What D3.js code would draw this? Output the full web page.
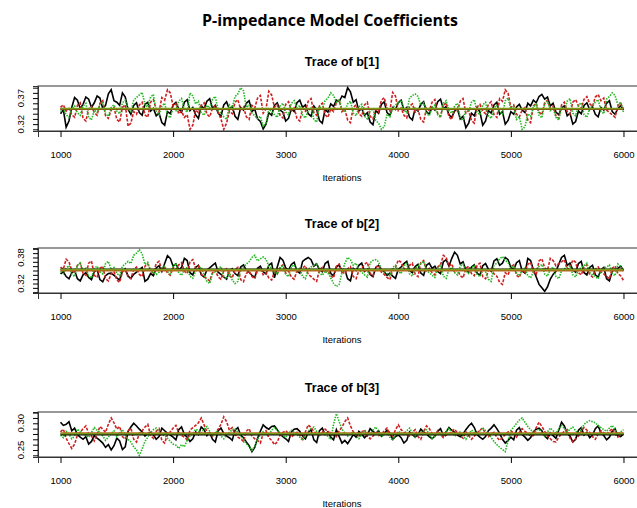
<!DOCTYPE html>
<html>
<head>
<meta charset="utf-8">
<script src="https://cdn.jsdelivr.net/npm/d3@7"></script>
<style>
  body { margin: 0; background: #fff; }
  text { font-family: "Liberation Sans", Arial, sans-serif; fill: #000; }
</style>
</head>
<body>
<div id="chart"></div>
<script>
// iterations: 1000, 1025, ..., 6000 (values every 25 iterations)
var iterStart = 1000, iterStep = 25;

// b[1]
var b1_black = [0.340,0.348,0.314,0.326,0.352,0.371,0.366,0.350,0.358,0.372,0.368,0.352,0.361,0.374,0.370,0.350,0.356,0.378,0.386,0.365,
  0.362,0.356,0.380,0.372,0.348,0.339,0.356,0.361,0.342,0.337,0.358,0.362,0.345,0.350,0.336,0.341,0.323,0.318,0.344,0.340,
  0.357,0.362,0.349,0.343,0.362,0.367,0.346,0.352,0.338,0.331,0.355,0.350,0.364,0.369,0.350,0.356,0.341,0.335,0.357,0.363,
  0.348,0.354,0.335,0.329,0.352,0.347,0.360,0.365,0.344,0.349,0.330,0.325,0.311,0.320,0.342,0.337,0.356,0.361,0.347,0.343,
  0.326,0.331,0.349,0.344,0.361,0.366,0.352,0.357,0.340,0.335,0.355,0.348,0.327,0.322,0.348,0.343,0.359,0.354,0.366,0.363,
  0.374,0.371,0.390,0.382,0.362,0.367,0.345,0.350,0.337,0.342,0.324,0.319,0.346,0.341,0.358,0.363,0.342,0.337,0.352,0.348,
  0.361,0.366,0.347,0.352,0.333,0.328,0.350,0.345,0.358,0.363,0.344,0.339,0.352,0.347,0.363,0.368,0.349,0.354,0.338,0.333,
  0.345,0.350,0.330,0.335,0.313,0.322,0.341,0.336,0.352,0.343,0.318,0.326,0.346,0.341,0.357,0.362,0.339,0.344,0.320,0.327,
  0.344,0.339,0.353,0.358,0.347,0.342,0.360,0.355,0.366,0.361,0.373,0.377,0.368,0.372,0.355,0.360,0.343,0.338,0.351,0.355,
  0.336,0.341,0.320,0.325,0.345,0.340,0.356,0.361,0.348,0.353,0.339,0.334,0.352,0.347,0.360,0.365,0.344,0.339,0.350,0.355,
  0.347];
var b1_red = [0.352,0.357,0.345,0.350,0.338,0.333,0.356,0.361,0.331,0.326,0.349,0.354,0.342,0.337,0.360,0.365,0.336,0.331,0.347,0.352,
  0.329,0.324,0.352,0.357,0.316,0.322,0.344,0.339,0.357,0.362,0.338,0.333,0.362,0.367,0.349,0.344,0.371,0.366,0.386,0.380,
  0.354,0.359,0.340,0.345,0.333,0.338,0.310,0.318,0.347,0.342,0.356,0.361,0.339,0.334,0.351,0.356,0.342,0.330,0.310,0.322,
  0.345,0.340,0.362,0.367,0.348,0.353,0.334,0.329,0.356,0.351,0.370,0.375,0.341,0.349,0.383,0.376,0.352,0.357,0.337,0.332,
  0.358,0.363,0.346,0.351,0.331,0.326,0.350,0.345,0.364,0.369,0.342,0.337,0.355,0.360,0.338,0.333,0.349,0.344,0.361,0.366,
  0.344,0.349,0.328,0.323,0.352,0.357,0.340,0.335,0.357,0.362,0.335,0.330,0.348,0.343,0.366,0.371,0.350,0.345,0.381,0.374,
  0.346,0.351,0.337,0.332,0.354,0.359,0.343,0.348,0.329,0.324,0.351,0.346,0.362,0.367,0.340,0.335,0.356,0.361,0.334,0.329,
  0.350,0.345,0.364,0.369,0.341,0.346,0.327,0.322,0.353,0.358,0.345,0.340,0.358,0.363,0.338,0.333,0.369,0.364,0.386,0.379,
  0.352,0.357,0.339,0.334,0.347,0.352,0.328,0.323,0.355,0.360,0.343,0.338,0.361,0.366,0.350,0.355,0.336,0.331,0.357,0.362,
  0.344,0.339,0.362,0.367,0.355,0.350,0.368,0.373,0.359,0.354,0.372,0.377,0.365,0.370,0.347,0.342,0.338,0.333,0.355,0.360,
  0.349];
var b1_green = [0.344,0.349,0.338,0.333,0.350,0.355,0.342,0.337,0.355,0.360,0.333,0.328,0.347,0.342,0.358,0.363,0.340,0.335,0.352,0.357,
  0.345,0.340,0.361,0.366,0.349,0.344,0.366,0.371,0.376,0.381,0.358,0.353,0.372,0.377,0.343,0.338,0.355,0.360,0.337,0.332,
  0.351,0.346,0.364,0.369,0.348,0.343,0.380,0.374,0.359,0.364,0.342,0.337,0.356,0.351,0.368,0.373,0.346,0.341,0.334,0.329,
  0.357,0.352,0.373,0.378,0.390,0.384,0.352,0.357,0.341,0.336,0.330,0.335,0.316,0.321,0.349,0.344,0.338,0.333,0.355,0.360,
  0.343,0.338,0.360,0.365,0.351,0.356,0.337,0.332,0.346,0.351,0.329,0.324,0.354,0.349,0.365,0.370,0.380,0.375,0.362,0.367,
  0.348,0.343,0.359,0.364,0.341,0.336,0.353,0.358,0.335,0.330,0.345,0.350,0.327,0.322,0.310,0.315,0.339,0.334,0.352,0.357,
  0.361,0.366,0.347,0.342,0.370,0.375,0.378,0.373,0.356,0.361,0.341,0.336,0.352,0.357,0.338,0.333,0.360,0.365,0.346,0.341,
  0.355,0.360,0.332,0.327,0.349,0.344,0.362,0.367,0.343,0.338,0.357,0.362,0.336,0.331,0.351,0.356,0.344,0.339,0.365,0.370,
  0.348,0.353,0.329,0.334,0.310,0.315,0.340,0.335,0.353,0.358,0.337,0.332,0.359,0.364,0.346,0.351,0.333,0.328,0.352,0.347,
  0.364,0.369,0.341,0.336,0.356,0.361,0.338,0.333,0.350,0.355,0.362,0.367,0.345,0.340,0.368,0.373,0.380,0.375,0.357,0.362,
  0.343];

// b[2]
var b2_black = [0.342,0.347,0.336,0.331,0.345,0.350,0.331,0.326,0.340,0.345,0.334,0.329,0.347,0.352,0.329,0.324,0.338,0.343,0.344,0.339,
  0.333,0.328,0.349,0.354,0.337,0.332,0.341,0.346,0.352,0.357,0.325,0.330,0.343,0.338,0.356,0.361,0.348,0.366,0.384,0.378,
  0.360,0.365,0.352,0.357,0.378,0.373,0.345,0.340,0.357,0.362,0.340,0.335,0.351,0.356,0.362,0.367,0.346,0.341,0.335,0.330,
  0.349,0.354,0.343,0.338,0.358,0.363,0.351,0.346,0.339,0.334,0.355,0.360,0.347,0.342,0.362,0.367,0.333,0.358,0.380,0.374,
  0.356,0.351,0.364,0.369,0.349,0.344,0.371,0.376,0.380,0.375,0.360,0.365,0.352,0.347,0.366,0.371,0.343,0.338,0.358,0.363,
  0.347,0.352,0.331,0.326,0.355,0.350,0.362,0.367,0.348,0.353,0.341,0.336,0.357,0.362,0.352,0.347,0.339,0.344,0.337,0.332,
  0.353,0.358,0.366,0.371,0.350,0.345,0.359,0.364,0.344,0.339,0.362,0.367,0.355,0.360,0.348,0.343,0.370,0.375,0.360,0.378,
  0.392,0.385,0.365,0.370,0.351,0.346,0.358,0.363,0.344,0.339,0.361,0.366,0.353,0.348,0.372,0.377,0.362,0.367,0.380,0.375,
  0.357,0.352,0.368,0.373,0.349,0.344,0.378,0.373,0.352,0.335,0.318,0.310,0.302,0.312,0.330,0.341,0.348,0.364,0.380,0.385,
  0.362,0.367,0.351,0.346,0.366,0.371,0.345,0.340,0.357,0.362,0.340,0.335,0.352,0.357,0.331,0.326,0.348,0.353,0.355,0.360,
  0.350];
var b2_red = [0.358,0.353,0.376,0.370,0.350,0.345,0.362,0.367,0.344,0.339,0.367,0.372,0.339,0.334,0.355,0.360,0.331,0.326,0.342,0.347,
  0.328,0.323,0.347,0.352,0.336,0.331,0.353,0.358,0.341,0.336,0.360,0.365,0.349,0.344,0.366,0.371,0.352,0.357,0.344,0.339,
  0.357,0.352,0.363,0.368,0.348,0.343,0.370,0.375,0.355,0.360,0.341,0.336,0.331,0.326,0.345,0.350,0.335,0.330,0.349,0.354,
  0.338,0.333,0.352,0.357,0.329,0.324,0.343,0.348,0.336,0.331,0.351,0.356,0.340,0.345,0.333,0.328,0.347,0.342,0.358,0.363,
  0.344,0.349,0.335,0.330,0.349,0.354,0.356,0.361,0.341,0.336,0.330,0.325,0.352,0.357,0.345,0.350,0.338,0.333,0.360,0.365,
  0.347,0.342,0.354,0.359,0.336,0.331,0.350,0.355,0.364,0.369,0.343,0.338,0.357,0.362,0.346,0.341,0.334,0.329,0.352,0.357,
  0.374,0.369,0.355,0.350,0.362,0.367,0.341,0.336,0.368,0.373,0.350,0.355,0.345,0.340,0.358,0.363,0.385,0.380,0.360,0.365,
  0.347,0.352,0.338,0.333,0.355,0.360,0.343,0.338,0.362,0.367,0.336,0.331,0.350,0.355,0.342,0.337,0.323,0.318,0.345,0.340,
  0.358,0.363,0.339,0.334,0.351,0.346,0.364,0.369,0.346,0.341,0.372,0.377,0.356,0.351,0.378,0.373,0.361,0.366,0.370,0.375,
  0.352,0.357,0.374,0.369,0.345,0.340,0.358,0.363,0.340,0.335,0.353,0.358,0.347,0.342,0.336,0.331,0.355,0.360,0.343,0.338,
  0.327];
var b2_green = [0.348,0.343,0.356,0.361,0.341,0.336,0.362,0.367,0.350,0.355,0.338,0.333,0.355,0.360,0.347,0.342,0.366,0.371,0.352,0.357,
  0.343,0.338,0.360,0.365,0.371,0.366,0.385,0.390,0.398,0.388,0.364,0.369,0.350,0.345,0.341,0.346,0.356,0.361,0.347,0.342,
  0.361,0.366,0.344,0.339,0.352,0.357,0.337,0.332,0.349,0.354,0.358,0.340,0.325,0.320,0.343,0.348,0.354,0.359,0.336,0.331,
  0.346,0.328,0.320,0.325,0.352,0.358,0.365,0.370,0.380,0.385,0.372,0.377,0.381,0.376,0.360,0.355,0.347,0.342,0.355,0.360,
  0.341,0.336,0.358,0.363,0.350,0.355,0.336,0.331,0.353,0.358,0.362,0.367,0.344,0.339,0.349,0.344,0.333,0.320,0.313,0.318,
  0.345,0.366,0.380,0.375,0.362,0.367,0.351,0.346,0.340,0.335,0.368,0.373,0.375,0.370,0.353,0.348,0.343,0.338,0.357,0.362,
  0.348,0.343,0.361,0.366,0.342,0.337,0.355,0.360,0.366,0.371,0.350,0.345,0.339,0.334,0.358,0.363,0.337,0.332,0.352,0.357,
  0.345,0.340,0.360,0.365,0.348,0.343,0.356,0.361,0.341,0.336,0.353,0.348,0.330,0.325,0.362,0.367,0.377,0.382,0.373,0.368,
  0.355,0.360,0.343,0.338,0.351,0.356,0.338,0.333,0.347,0.352,0.359,0.364,0.342,0.337,0.353,0.358,0.336,0.331,0.349,0.354,
  0.357,0.362,0.340,0.335,0.352,0.357,0.362,0.367,0.345,0.340,0.336,0.331,0.350,0.355,0.358,0.363,0.343,0.338,0.365,0.360,
  0.346];

// b[3]
var b3_black = [0.302,0.296,0.298,0.303,0.286,0.291,0.279,0.274,0.270,0.275,0.261,0.266,0.277,0.272,0.268,0.263,0.255,0.260,0.250,0.258,
  0.272,0.267,0.251,0.256,0.285,0.293,0.300,0.295,0.289,0.284,0.276,0.281,0.283,0.278,0.270,0.275,0.291,0.286,0.281,0.278,
  0.274,0.269,0.288,0.293,0.279,0.274,0.266,0.271,0.284,0.279,0.293,0.288,0.277,0.282,0.270,0.265,0.286,0.291,0.281,0.276,
  0.273,0.268,0.287,0.292,0.278,0.273,0.265,0.258,0.247,0.255,0.272,0.285,0.297,0.292,0.289,0.294,0.295,0.288,0.280,0.275,
  0.271,0.266,0.284,0.289,0.290,0.285,0.276,0.271,0.283,0.288,0.269,0.264,0.286,0.291,0.279,0.284,0.274,0.269,0.288,0.275,
  0.263,0.268,0.262,0.270,0.279,0.274,0.285,0.280,0.273,0.278,0.290,0.285,0.281,0.286,0.276,0.281,0.287,0.282,0.270,0.275,
  0.278,0.273,0.263,0.268,0.284,0.279,0.274,0.279,0.289,0.284,0.280,0.275,0.271,0.276,0.285,0.290,0.277,0.284,0.292,0.287,
  0.283,0.278,0.275,0.280,0.288,0.295,0.300,0.292,0.279,0.274,0.270,0.275,0.286,0.291,0.297,0.290,0.281,0.270,0.263,0.268,
  0.274,0.269,0.287,0.292,0.279,0.274,0.268,0.273,0.284,0.289,0.291,0.286,0.276,0.271,0.282,0.277,0.272,0.287,0.302,0.295,
  0.281,0.276,0.265,0.270,0.287,0.292,0.278,0.283,0.273,0.278,0.290,0.295,0.282,0.277,0.269,0.274,0.285,0.290,0.276,0.275,
  0.280];
var b3_red = [0.284,0.289,0.272,0.262,0.253,0.261,0.278,0.283,0.290,0.295,0.281,0.276,0.267,0.280,0.294,0.289,0.283,0.298,0.310,0.301,
  0.289,0.294,0.275,0.270,0.286,0.291,0.270,0.265,0.281,0.286,0.293,0.298,0.277,0.272,0.285,0.290,0.268,0.263,0.279,0.284,
  0.291,0.296,0.282,0.277,0.274,0.269,0.287,0.292,0.296,0.301,0.310,0.297,0.284,0.279,0.276,0.281,0.289,0.298,0.312,0.303,
  0.287,0.292,0.279,0.274,0.271,0.266,0.285,0.290,0.276,0.271,0.268,0.263,0.281,0.286,0.273,0.268,0.260,0.265,0.278,0.283,
  0.286,0.281,0.274,0.279,0.283,0.278,0.270,0.284,0.297,0.292,0.285,0.280,0.278,0.283,0.289,0.284,0.282,0.277,0.275,0.286,
  0.293,0.303,0.310,0.295,0.284,0.279,0.276,0.283,0.288,0.276,0.271,0.276,0.282,0.277,0.279,0.286,0.291,0.280,0.274,0.288,
  0.297,0.288,0.283,0.278,0.276,0.283,0.288,0.275,0.270,0.284,0.295,0.290,0.281,0.276,0.286,0.279,0.273,0.278,0.280,0.285,
  0.289,0.282,0.277,0.272,0.284,0.277,0.270,0.276,0.282,0.287,0.291,0.280,0.275,0.280,0.283,0.274,0.268,0.273,0.279,0.284,
  0.286,0.281,0.274,0.283,0.290,0.285,0.281,0.276,0.277,0.292,0.302,0.294,0.285,0.276,0.271,0.266,0.265,0.274,0.280,0.285,
  0.288,0.272,0.265,0.271,0.276,0.285,0.292,0.287,0.283,0.275,0.270,0.280,0.286,0.282,0.279,0.285,0.290,0.280,0.274,0.279,
  0.282];
var b3_green = [0.278,0.273,0.285,0.280,0.271,0.276,0.289,0.284,0.280,0.277,0.274,0.283,0.292,0.287,0.283,0.276,0.268,0.274,0.281,0.286,
  0.275,0.282,0.288,0.279,0.270,0.265,0.256,0.250,0.240,0.252,0.266,0.274,0.283,0.288,0.291,0.284,0.279,0.277,0.272,0.266,
  0.261,0.259,0.253,0.260,0.256,0.268,0.276,0.281,0.289,0.286,0.282,0.289,0.294,0.285,0.278,0.283,0.285,0.276,0.271,0.278,
  0.283,0.288,0.290,0.283,0.276,0.270,0.262,0.256,0.249,0.257,0.270,0.279,0.284,0.281,0.278,0.287,0.292,0.286,0.281,0.276,
  0.274,0.281,0.287,0.283,0.279,0.274,0.268,0.277,0.285,0.290,0.293,0.285,0.277,0.281,0.283,0.275,0.270,0.298,0.318,0.303,
  0.289,0.281,0.276,0.281,0.284,0.277,0.271,0.279,0.287,0.283,0.280,0.287,0.293,0.284,0.275,0.279,0.282,0.274,0.268,0.277,
  0.285,0.282,0.279,0.286,0.291,0.282,0.274,0.279,0.283,0.286,0.288,0.279,0.272,0.277,0.281,0.279,0.277,0.284,0.290,0.283,
  0.276,0.280,0.284,0.277,0.270,0.279,0.287,0.283,0.279,0.286,0.292,0.286,0.281,0.273,0.266,0.260,0.255,0.251,0.247,0.268,
  0.286,0.293,0.300,0.306,0.310,0.302,0.294,0.288,0.283,0.286,0.289,0.282,0.276,0.284,0.291,0.286,0.281,0.289,0.296,0.290,
  0.284,0.289,0.293,0.286,0.279,0.289,0.298,0.302,0.305,0.303,0.301,0.296,0.292,0.288,0.285,0.291,0.296,0.288,0.280,0.284,
  0.288];

// y tick labels printed on each panel
var yLabels1 = [0.32, 0.37];
var yLabels2 = [0.32, 0.38];
var yLabels3 = [0.25, 0.30];

var xTicks = [1000, 2000, 3000, 4000, 5000, 6000];

var panels = [
  {title: "Trace of b[1]", chains: [b1_black, b1_red, b1_green], labels: yLabels1},
  {title: "Trace of b[2]", chains: [b2_black, b2_red, b2_green], labels: yLabels2},
  {title: "Trace of b[3]", chains: [b3_black, b3_red, b3_green], labels: yLabels3}
];

var colors = ["#000000", "#cc2222", "#22b822"];
var dashes = [null, "3,1.5", "1.5,1.2"];

var W = 637, H = 508;
var left = 38, right = 646, panelTops = [86, 248, 412], ph = 45;

var svg = d3.select("#chart").append("svg")
    .attr("width", W)
    .attr("height", H);

svg.append("text")
    .attr("x", 330)
    .attr("y", 26)
    .attr("text-anchor", "middle")
    .style("font-family", "'Open Sans', 'Noto Sans', sans-serif")
    .style("font-weight", "bold")
    .style("font-size", "16px")
    .text("P-impedance Model Coefficients");

var n = b1_black.length;
var iters = d3.range(n).map(function(i) { return iterStart + i * iterStep; });

// x scale like R: data range + 4% each side
var xr = d3.extent(iters), xpad = (xr[1] - xr[0]) * 0.04;
var x = d3.scaleLinear().domain([xr[0] - xpad, xr[1] + xpad]).range([left, right]);

panels.forEach(function(p, k) {
    var top = panelTops[k], bottom = top + ph;
    var all = d3.merge(p.chains);
    var yr = d3.extent(all), ypad = (yr[1] - yr[0]) * 0.04;
    var y = d3.scaleLinear().domain([yr[0] - ypad, yr[1] + ypad]).range([bottom, top]);

    var g = svg.append("g");

    // title
    g.append("text")
        .attr("x", (left + right) / 2)
        .attr("y", top - 20)
        .attr("text-anchor", "middle")
        .style("font-weight", "bold")
        .style("font-size", "12.5px")
        .text(p.title);

    // traces
    var line = d3.line()
        .x(function(d, i) { return x(iters[i]); })
        .y(function(d) { return y(d); });

    p.chains.forEach(function(c, j) {
        g.append("path")
            .datum(c)
            .attr("fill", "none")
            .attr("stroke", colors[j])
            .attr("stroke-width", 1.6)
            .attr("stroke-dasharray", dashes[j])
            .attr("d", line);
    });

    // smooth lines (flat, at chain mean)
    p.chains.forEach(function(c, j) {
        var m = d3.mean(c);
        g.append("path")
            .datum([xr[0], xr[1]])
            .attr("fill", "none")
            .attr("stroke", j == 0 ? "#000" : (j == 1 ? "#b5651d" : "#7a9a1a"))
            .attr("stroke-width", j == 0 ? 2 : 1.5)
            .attr("d", d3.line().x(function(d) { return x(d); }).y(function() { return y(m); }));
    });

    // box
    g.append("rect")
        .attr("x", left)
        .attr("y", top)
        .attr("width", right - left)
        .attr("height", ph)
        .attr("fill", "none")
        .attr("stroke", "#333")
        .attr("stroke-width", 1);

    // x axis
    var xa = g.append("g")
        .attr("transform", "translate(0," + bottom + ")")
        .call(d3.axisBottom(x).tickValues(xTicks).tickSize(6).tickPadding(14).tickFormat(d3.format("d")));
    xa.select(".domain").attr("stroke", "#333");
    xa.selectAll("text").style("font-size", "9.5px").style("font-family", "'Liberation Sans', Arial, sans-serif");

    g.append("text")
        .attr("x", (left + right) / 2)
        .attr("y", bottom + 50)
        .attr("text-anchor", "middle")
        .style("font-size", "9.5px")
        .text("Iterations");

    // y axis: ticks every 0.01, only some labelled
    var yt = d3.range(Math.ceil(y.domain()[0] * 100), Math.floor(y.domain()[1] * 100) + 1)
        .map(function(v) { return v / 100; });
    var ya = g.append("g")
        .attr("transform", "translate(" + left + ",0)")
        .call(d3.axisLeft(y).tickValues(yt).tickSize(5).tickFormat(""));
    ya.select(".domain").attr("stroke", "#333");

    g.selectAll(".ylab")
        .data(p.labels)
        .enter()
        .append("text")
        .attr("transform", function(d) { return "translate(24," + y(d) + ")rotate(-90)"; })
        .attr("text-anchor", "middle")
        .style("font-size", "9.5px")
        .text(function(d) { return d3.format(".2f")(d); });
});
</script>
</body>
</html>
